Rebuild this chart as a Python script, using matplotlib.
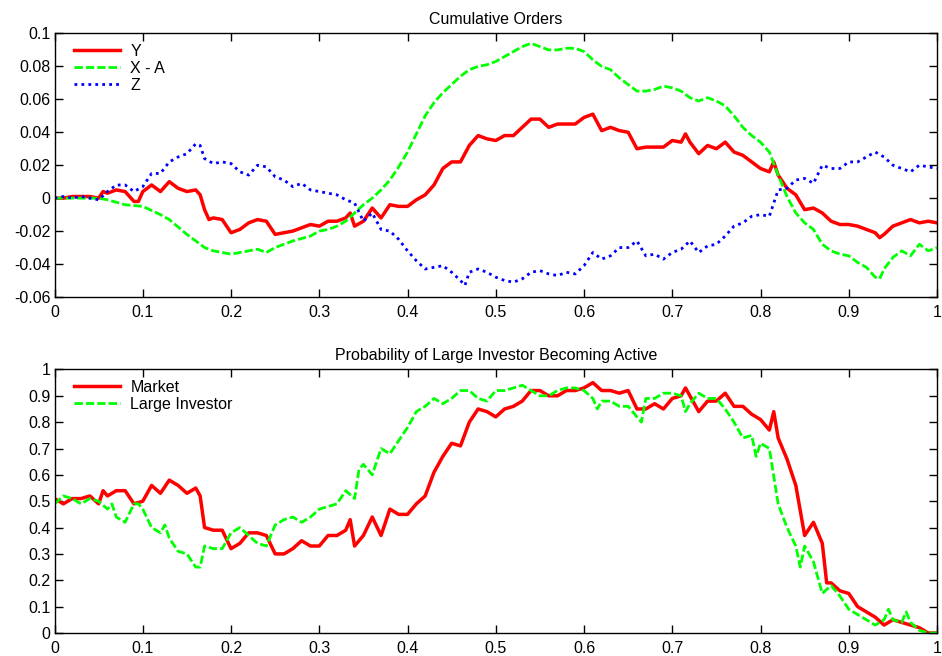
import matplotlib
matplotlib.use('Agg')
import matplotlib.pyplot as plt
from matplotlib.ticker import FormatStrFormatter, MultipleLocator

plt.rcParams['font.family'] = ['Liberation Sans', 'DejaVu Sans']

# Cumulative orders (top panel)
y_t = [0, 0.01, 0.02, 0.03, 0.04, 0.05, 0.055, 0.06, 0.07, 0.08, 0.09, 0.095,
       0.1, 0.11, 0.12, 0.13, 0.14, 0.15, 0.16, 0.165, 0.17, 0.175, 0.18, 0.19,
       0.2, 0.21, 0.22, 0.23, 0.24, 0.25, 0.26, 0.27, 0.28, 0.29, 0.3, 0.31,
       0.32, 0.33, 0.335, 0.34, 0.35, 0.36, 0.37, 0.38, 0.39, 0.4, 0.41, 0.42,
       0.43, 0.44, 0.45, 0.46, 0.47, 0.48, 0.49, 0.5, 0.51, 0.52, 0.53, 0.54,
       0.55, 0.56, 0.57, 0.58, 0.59, 0.6, 0.61, 0.62, 0.63, 0.64, 0.65, 0.66,
       0.67, 0.68, 0.69, 0.7, 0.71, 0.715, 0.72, 0.73, 0.74, 0.75, 0.76, 0.77,
       0.78, 0.79, 0.8, 0.81, 0.815, 0.82, 0.83, 0.84, 0.85, 0.86, 0.87, 0.88,
       0.89, 0.9, 0.91, 0.92, 0.93, 0.935, 0.94, 0.95, 0.96, 0.97, 0.98, 0.99, 1.0]
y_vals = [0, 0, 0.001, 0.001, 0.001, 0, 0.004, 0.003, 0.005, 0.004, -0.002, -0.002,
          0.004, 0.008, 0.004, 0.010, 0.006, 0.004, 0.005, 0.002, -0.007, -0.013, -0.012, -0.013,
          -0.021, -0.019, -0.015, -0.013, -0.014, -0.022, -0.021, -0.020, -0.018, -0.016, -0.017, -0.014,
          -0.014, -0.012, -0.009, -0.017, -0.014, -0.006, -0.012, -0.004, -0.005, -0.005, -0.001, 0.002,
          0.008, 0.018, 0.022, 0.022, 0.032, 0.038, 0.036, 0.035, 0.038, 0.038, 0.043, 0.048,
          0.048, 0.043, 0.045, 0.045, 0.045, 0.049, 0.051, 0.041, 0.043, 0.041, 0.040, 0.030,
          0.031, 0.031, 0.031, 0.035, 0.034, 0.039, 0.034, 0.027, 0.032, 0.030, 0.034, 0.028,
          0.026, 0.022, 0.018, 0.016, 0.022, 0.014, 0.006, 0.002, -0.007, -0.006, -0.009, -0.014,
          -0.016, -0.016, -0.017, -0.019, -0.021, -0.024, -0.022, -0.017, -0.015, -0.013, -0.015, -0.014, -0.015]

xa_t = [0, 0.05, 0.06, 0.08, 0.1, 0.12, 0.13, 0.15, 0.17, 0.18, 0.2, 0.22, 0.23,
        0.24, 0.25, 0.27, 0.29, 0.3, 0.31, 0.32, 0.33, 0.34, 0.35, 0.36, 0.37,
        0.38, 0.39, 0.4, 0.41, 0.42, 0.43, 0.44, 0.45, 0.46, 0.47, 0.48, 0.49,
        0.5, 0.51, 0.52, 0.53, 0.54, 0.55, 0.56, 0.57, 0.58, 0.59, 0.6, 0.61,
        0.62, 0.63, 0.64, 0.65, 0.66, 0.67, 0.68, 0.69, 0.7, 0.71, 0.72, 0.73,
        0.74, 0.75, 0.76, 0.77, 0.78, 0.79, 0.8, 0.81, 0.82, 0.83, 0.84, 0.85,
        0.86, 0.87, 0.88, 0.89, 0.9, 0.91, 0.92, 0.93, 0.935, 0.94, 0.95, 0.96,
        0.97, 0.98, 0.99, 1.0]
xa_vals = [0, 0, -0.001, -0.004, -0.005, -0.010, -0.013, -0.022, -0.030, -0.032, -0.034, -0.032, -0.031,
           -0.033, -0.030, -0.026, -0.023, -0.020, -0.019, -0.017, -0.014, -0.009, -0.004, 0.0, 0.005,
           0.011, 0.019, 0.028, 0.039, 0.050, 0.058, 0.064, 0.069, 0.074, 0.078, 0.080, 0.081,
           0.083, 0.086, 0.089, 0.092, 0.094, 0.092, 0.090, 0.090, 0.091, 0.091, 0.089, 0.084,
           0.080, 0.078, 0.073, 0.069, 0.065, 0.065, 0.066, 0.068, 0.067, 0.065, 0.061, 0.059,
           0.061, 0.059, 0.056, 0.050, 0.043, 0.038, 0.034, 0.028, 0.014, 0.001, -0.009, -0.015,
           -0.019, -0.028, -0.032, -0.034, -0.035, -0.039, -0.042, -0.048, -0.049, -0.043, -0.036, -0.032,
           -0.035, -0.028, -0.032, -0.030]

z_t = [0, 0.01, 0.02, 0.03, 0.04, 0.05, 0.06, 0.07, 0.08, 0.09, 0.1, 0.11, 0.12,
       0.13, 0.14, 0.15, 0.16, 0.165, 0.17, 0.18, 0.19, 0.2, 0.21, 0.22, 0.23,
       0.24, 0.25, 0.26, 0.27, 0.28, 0.29, 0.3, 0.31, 0.32, 0.33, 0.34, 0.35,
       0.36, 0.37, 0.38, 0.39, 0.4, 0.41, 0.42, 0.43, 0.44, 0.45, 0.46, 0.465,
       0.47, 0.48, 0.49, 0.5, 0.51, 0.52, 0.53, 0.54, 0.55, 0.56, 0.57, 0.58,
       0.59, 0.6, 0.61, 0.62, 0.63, 0.64, 0.65, 0.66, 0.67, 0.68, 0.69, 0.7,
       0.71, 0.72, 0.73, 0.74, 0.75, 0.76, 0.77, 0.78, 0.79, 0.8, 0.81, 0.82,
       0.83, 0.84, 0.85, 0.86, 0.87, 0.88, 0.89, 0.9, 0.91, 0.92, 0.93, 0.94,
       0.95, 0.96, 0.97, 0.98, 0.99, 1.0]
z_vals = [0, 0.001, 0, 0.001, 0, -0.001, 0.004, 0.008, 0.008, 0.004, 0.007, 0.015, 0.015,
          0.022, 0.025, 0.027, 0.033, 0.032, 0.024, 0.021, 0.022, 0.021, 0.016, 0.014, 0.020,
          0.019, 0.013, 0.011, 0.007, 0.009, 0.005, 0.004, 0.003, 0.002, -0.001, -0.003, -0.014,
          -0.009, -0.019, -0.020, -0.025, -0.032, -0.038, -0.043, -0.042, -0.041, -0.045, -0.050, -0.053,
          -0.045, -0.043, -0.045, -0.048, -0.050, -0.051, -0.049, -0.045, -0.044, -0.046, -0.047, -0.045,
          -0.046, -0.041, -0.033, -0.037, -0.035, -0.030, -0.030, -0.026, -0.035, -0.034, -0.037, -0.033,
          -0.031, -0.026, -0.033, -0.029, -0.028, -0.023, -0.017, -0.015, -0.011, -0.010, -0.011, 0.005,
          0.006, 0.011, 0.012, 0.009, 0.020, 0.018, 0.018, 0.022, 0.022, 0.025, 0.028, 0.025,
          0.020, 0.018, 0.016, 0.020, 0.019, 0.018]

# Probability of large investor becoming active (bottom panel)
mkt_t = [0, 0.01, 0.02, 0.03, 0.04, 0.05, 0.055, 0.06, 0.07, 0.08, 0.09, 0.1,
         0.11, 0.12, 0.13, 0.14, 0.15, 0.16, 0.165, 0.17, 0.18, 0.19, 0.2, 0.21,
         0.22, 0.23, 0.24, 0.25, 0.26, 0.27, 0.28, 0.29, 0.3, 0.31, 0.32, 0.33,
         0.335, 0.34, 0.35, 0.36, 0.37, 0.38, 0.39, 0.4, 0.41, 0.42, 0.43, 0.44,
         0.45, 0.46, 0.47, 0.48, 0.49, 0.5, 0.51, 0.52, 0.53, 0.54, 0.55, 0.56,
         0.57, 0.58, 0.59, 0.6, 0.61, 0.62, 0.63, 0.64, 0.65, 0.66, 0.67, 0.68,
         0.69, 0.7, 0.71, 0.715, 0.72, 0.73, 0.74, 0.75, 0.76, 0.77, 0.78, 0.79,
         0.8, 0.81, 0.815, 0.82, 0.83, 0.84, 0.85, 0.86, 0.87, 0.875, 0.88, 0.89,
         0.9, 0.91, 0.92, 0.93, 0.94, 0.95, 0.96, 0.97, 0.98, 0.99, 1.0]
mkt_vals = [0.51, 0.49, 0.51, 0.51, 0.52, 0.49, 0.54, 0.52, 0.54, 0.54, 0.49, 0.50,
            0.56, 0.53, 0.58, 0.56, 0.53, 0.55, 0.52, 0.40, 0.39, 0.39, 0.32, 0.34,
            0.38, 0.38, 0.37, 0.30, 0.30, 0.32, 0.35, 0.33, 0.33, 0.37, 0.37, 0.39,
            0.43, 0.33, 0.37, 0.44, 0.37, 0.47, 0.45, 0.45, 0.49, 0.52, 0.61, 0.67,
            0.72, 0.71, 0.80, 0.85, 0.84, 0.82, 0.85, 0.86, 0.88, 0.92, 0.92, 0.90,
            0.90, 0.92, 0.92, 0.93, 0.95, 0.92, 0.92, 0.91, 0.92, 0.85, 0.85, 0.87,
            0.85, 0.89, 0.90, 0.93, 0.90, 0.84, 0.88, 0.88, 0.91, 0.86, 0.86, 0.83,
            0.81, 0.77, 0.84, 0.74, 0.66, 0.56, 0.37, 0.42, 0.34, 0.19, 0.19, 0.16,
            0.15, 0.10, 0.08, 0.06, 0.03, 0.05, 0.04, 0.03, 0.02, 0.0, 0.0]

inv_t = [0, 0.01, 0.02, 0.03, 0.04, 0.05, 0.06, 0.065, 0.07, 0.08, 0.09, 0.095,
         0.1, 0.11, 0.12, 0.125, 0.13, 0.14, 0.15, 0.16, 0.165, 0.17, 0.18, 0.19,
         0.2, 0.21, 0.22, 0.23, 0.24, 0.25, 0.26, 0.27, 0.28, 0.29, 0.3, 0.31,
         0.32, 0.33, 0.34, 0.345, 0.35, 0.36, 0.37, 0.38, 0.39, 0.4, 0.41, 0.42,
         0.43, 0.44, 0.45, 0.46, 0.47, 0.48, 0.49, 0.5, 0.51, 0.52, 0.53, 0.54,
         0.55, 0.56, 0.57, 0.58, 0.59, 0.6, 0.61, 0.615, 0.62, 0.63, 0.64, 0.65,
         0.66, 0.665, 0.67, 0.68, 0.69, 0.7, 0.71, 0.715, 0.72, 0.73, 0.74, 0.75,
         0.76, 0.77, 0.78, 0.79, 0.795, 0.8, 0.81, 0.82, 0.83, 0.84, 0.845, 0.85,
         0.86, 0.87, 0.88, 0.89, 0.9, 0.91, 0.92, 0.93, 0.94, 0.945, 0.95, 0.96,
         0.965, 0.97, 0.98, 0.99, 1.0]
inv_vals = [0.49, 0.52, 0.51, 0.49, 0.51, 0.50, 0.47, 0.49, 0.44, 0.42, 0.49, 0.49,
            0.47, 0.40, 0.38, 0.41, 0.36, 0.31, 0.30, 0.25, 0.25, 0.33, 0.32, 0.32,
            0.38, 0.40, 0.37, 0.34, 0.33, 0.41, 0.43, 0.44, 0.42, 0.44, 0.47, 0.48,
            0.49, 0.54, 0.51, 0.62, 0.64, 0.60, 0.70, 0.68, 0.73, 0.78, 0.84, 0.86,
            0.89, 0.87, 0.89, 0.92, 0.92, 0.89, 0.88, 0.92, 0.92, 0.93, 0.94, 0.92,
            0.90, 0.90, 0.92, 0.93, 0.93, 0.92, 0.89, 0.85, 0.88, 0.88, 0.86, 0.86,
            0.82, 0.80, 0.89, 0.89, 0.91, 0.91, 0.90, 0.84, 0.87, 0.91, 0.89, 0.89,
            0.85, 0.80, 0.74, 0.75, 0.67, 0.72, 0.70, 0.49, 0.40, 0.33, 0.25, 0.33,
            0.27, 0.15, 0.18, 0.14, 0.09, 0.07, 0.05, 0.03, 0.05, 0.09, 0.05, 0.04,
            0.08, 0.04, 0.01, 0.0, 0.0]

RED, GREEN, BLUE = '#ff0000', '#00ff00', '#0000ff'
FS = 11.5

fig = plt.figure(figsize=(9.42, 6.56), dpi=100)
ax1 = fig.add_axes([0.0579, 0.5473, 0.9368, 0.4017])
ax2 = fig.add_axes([0.0579, 0.0351, 0.9368, 0.4017])

ax1.plot(y_t, y_vals, color=RED, lw=2.5, label='Y')
ax1.plot(xa_t, xa_vals, color=GREEN, lw=2.0, dashes=(3.0, 1.1), label='X - A')
ax1.plot(z_t, z_vals, color=BLUE, lw=2.0, dashes=(1.0, 1.5), label='Z')
ax1.set_ylim(-0.06, 0.1)
ax1.yaxis.set_major_locator(MultipleLocator(0.02))
ax1.set_title('Cumulative Orders', fontsize=FS, pad=7)

ax2.plot(mkt_t, mkt_vals, color=RED, lw=2.5, label='Market')
ax2.plot(inv_t, inv_vals, color=GREEN, lw=2.0, dashes=(3.0, 1.1), label='Large Investor')
ax2.set_ylim(0, 1)
ax2.yaxis.set_major_locator(MultipleLocator(0.1))
ax2.set_title('Probability of Large Investor Becoming Active', fontsize=FS, pad=7)

for ax in (ax1, ax2):
    ax.set_xlim(0, 1)
    ax.xaxis.set_major_locator(MultipleLocator(0.1))
    ax.xaxis.set_major_formatter(FormatStrFormatter('%g'))
    ax.yaxis.set_major_formatter(FormatStrFormatter('%g'))
    ax.tick_params(direction='in', top=True, right=True, length=6, width=1,
                   labelsize=FS, pad=6)
    ax.tick_params(axis='y', pad=3)
    for s in ax.spines.values():
        s.set_linewidth(1)
    ax.legend(loc='upper left', bbox_to_anchor=(0.022, 0.96), frameon=False,
              fontsize=FS, handlelength=2.9, labelspacing=0.12,
              handletextpad=0.63, borderpad=0, borderaxespad=0)

fig.savefig('out.png', dpi=100)
